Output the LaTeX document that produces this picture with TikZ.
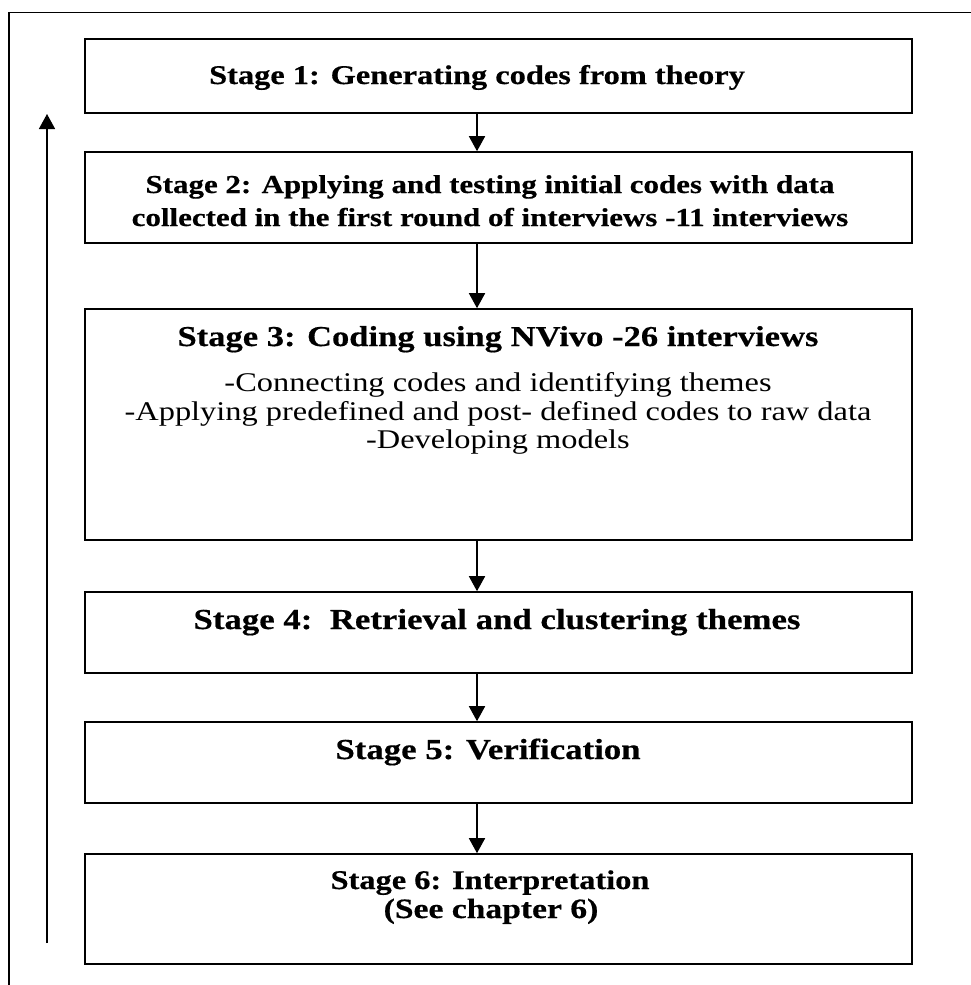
\documentclass[tikz,border=0pt]{standalone}
\usepackage{fontspec}
\setmainfont{Liberation Serif}[FakeStretch=1.2, BoldFeatures={FakeBold=0.5}]
\usetikzlibrary{arrows.meta}
\begin{document}
\begin{tikzpicture}[x=1pt,y=-1pt,
  box/.style={draw, line width=1.6pt, minimum width=827pt, inner sep=0pt},
  arr/.style={line width=1.6pt, -{Triangle[width=16pt,length=15pt]}},
  frame/.style={line width=1.3pt},
  bt/.style={anchor=base, inner sep=0pt, font=\fontsize{27}{32}\selectfont\bfseries},
  rt/.style={anchor=base, inner sep=0pt, font=\fontsize{27}{32}\selectfont}]
\useasboundingbox (0,0) rectangle (971,985);
% outer frame
\coordinate (fb) at (9,985);
\coordinate (fc) at (9,12.5);
\coordinate (fr) at (971,12.5);
\draw[frame] (fb) -- (fc) -- (fr);
% boxes
\node[box, minimum height=74pt]  (b1) at (498.5,76) {};
\node[box, minimum height=91pt]  (b2) at (498.5,197.5) {};
\node[box, minimum height=231pt] (b3) at (498.5,424.5) {};
\node[box, minimum height=81pt]  (b4) at (498.5,632.5) {};
\node[box, minimum height=81pt]  (b5) at (498.5,762.5) {};
\node[box, minimum height=110pt] (b6) at (498.5,909) {};
% texts
\node[bt] (t1) at (477,84) {Stage 1: Generating codes from theory};
\node[bt, font=\fontsize{25.8}{31}\selectfont\bfseries] (t2a) at (490,193) {Stage 2: Applying and testing initial codes with data};
\node[bt, font=\fontsize{25.8}{31}\selectfont\bfseries] (t2b) at (490,226) {collected in the first round of interviews -11 interviews};
\node[bt, font=\fontsize{28.8}{34}\selectfont\bfseries] (t3) at (498,346) {Stage 3: Coding using NVivo -26 interviews};
\node[rt] (t3a) at (498,391) {-Connecting codes and identifying themes};
\node[rt] (t3b) at (498,420) {-Applying predefined and post- defined codes to raw data};
\node[rt] (t3c) at (498,448) {-Developing models};
\node[bt, font=\fontsize{29}{34}\selectfont\bfseries] (t4) at (497,629) {Stage 4:\ \ Retrieval and clustering themes};
\node[bt, font=\fontsize{29}{34}\selectfont\bfseries] (t5) at (488,759) {Stage 5: Verification};
\node[bt] (t6a) at (490,889) {Stage 6: Interpretation};
\node[bt, font=\fontsize{28}{33}\selectfont\bfseries] (t6b) at (491,918) {(See chapter 6)};
% arrows
\coordinate (ax) at (477,0);
\draw[arr] (b1.south -| ax) -- (b2.north -| ax);
\draw[arr] (b2.south -| ax) -- (b3.north -| ax);
\draw[arr] (b3.south -| ax) -- (b4.north -| ax);
\draw[arr] (b4.south -| ax) -- (b5.north -| ax);
\draw[arr] (b5.south -| ax) -- (b6.north -| ax);
% feedback arrow
\coordinate (la1) at (47,943);
\coordinate (la2) at (47,114);
\draw[arr] (la1) -- (la2);
\end{tikzpicture}
\end{document}
